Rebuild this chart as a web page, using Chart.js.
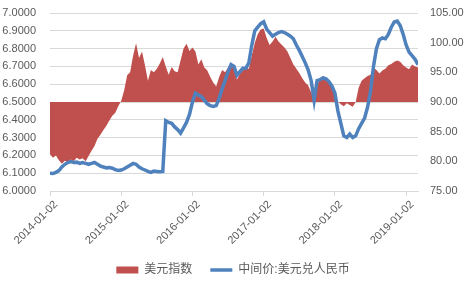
<!DOCTYPE html>
<html>
<head>
<meta charset="utf-8">
<script src="https://cdn.jsdelivr.net/npm/chart.js@4.4.1/dist/chart.umd.min.js"></script>
<style>
html,body{margin:0;padding:0;background:#fff;}
#wrap{width:475px;height:286px;}
</style>
</head>
<body>
<div id="wrap"><canvas id="c" width="475" height="286"></canvas></div>
<script>
// Semi-monthly samples, index 0 = 2014-01-02
const xTickIndex = [0, 24, 48, 72, 96, 120];
const xTickLabels = ['2014-01-02', '2015-01-02', '2016-01-02', '2017-01-02', '2018-01-02', '2019-01-02'];
const seriesNames = ['美元指数', '中间价:美元兑人民币'];

// 美元指数 (right axis)
const dollarIndex = [
  81.2, 80.6, 81.0, 80.2, 79.6, 80.1, 79.8, 80.3, 80.0, 80.6, 80.3, 80.5,
  80.0, 80.9, 81.8, 82.6, 83.8, 84.5, 85.3, 86.0, 86.9, 87.7, 88.2, 89.3,
  90.2, 92.0, 94.5, 95.0, 97.8, 99.9, 97.4, 98.5, 96.2, 93.6, 95.4, 95.0,
  95.6, 96.5, 97.6, 96.0, 94.6, 95.9, 95.2, 95.0, 97.0, 99.0, 99.8, 98.6,
  99.2, 98.5, 96.3, 97.2, 95.8, 95.3, 94.2, 93.3, 92.6, 94.2, 95.4, 95.0,
  95.8, 96.6, 95.6, 93.8, 94.8, 95.3, 95.8, 95.6, 97.8, 100.0, 101.4, 102.2,
  102.4, 100.8, 99.6, 100.2, 101.0, 100.2, 99.7, 99.2, 98.5, 97.4, 96.3, 95.6,
  94.9, 94.0, 93.3, 92.8, 91.6, 90.6, 92.8, 94.0, 94.4, 94.0, 93.2, 92.3,
  91.2, 90.1, 89.6, 89.3, 89.8, 89.5, 89.2, 90.0, 92.4, 93.6, 94.0, 94.4,
  94.6, 95.8, 95.4, 94.8, 95.3, 95.6, 96.2, 96.4, 96.8, 97.0, 96.8, 96.2,
  95.8, 95.5, 96.3, 96.0, 95.8
];

// 中间价:美元兑人民币 (left axis)
const usdCny = [
  6.100, 6.098, 6.105, 6.115, 6.135, 6.150, 6.160, 6.165, 6.160, 6.162, 6.155, 6.160,
  6.155, 6.150, 6.155, 6.160, 6.150, 6.140, 6.135, 6.130, 6.132, 6.128, 6.120, 6.115,
  6.118, 6.125, 6.135, 6.145, 6.155, 6.150, 6.135, 6.125, 6.118, 6.110, 6.105, 6.112,
  6.110, 6.108, 6.110, 6.395, 6.385, 6.380, 6.360, 6.345, 6.325, 6.355, 6.385, 6.430,
  6.500, 6.550, 6.540, 6.530, 6.510, 6.490, 6.480, 6.475, 6.480, 6.520, 6.575, 6.620,
  6.670, 6.710, 6.700, 6.650, 6.670, 6.690, 6.690, 6.720, 6.820, 6.900, 6.920, 6.940,
  6.950, 6.910, 6.890, 6.870, 6.880, 6.890, 6.895, 6.890, 6.880, 6.870, 6.855, 6.820,
  6.790, 6.755, 6.720, 6.680, 6.620, 6.510, 6.620, 6.625, 6.635, 6.630, 6.615, 6.590,
  6.550, 6.450, 6.380, 6.310, 6.300, 6.320, 6.300, 6.310, 6.350, 6.380, 6.410, 6.470,
  6.560, 6.700, 6.800, 6.850, 6.860, 6.855, 6.880, 6.920, 6.950, 6.955, 6.930, 6.880,
  6.820, 6.780, 6.760, 6.740, 6.710
];

const FONT = "'Liberation Sans', 'Noto Sans CJK SC', sans-serif";
const TXT = '#595959';
const GRID = '#d9d9d9';
const RED = '#C0504D';
const BLUE = '#4F81BD';

const toXY = arr => arr.map((v, i) => ({ x: i, y: v }));

new Chart(document.getElementById('c'), {
  type: 'line',
  data: {
    datasets: [
      {
        label: seriesNames[1],
        data: toXY(usdCny),
        yAxisID: 'y',
        borderColor: BLUE,
        backgroundColor: BLUE,
        borderWidth: 3.5,
        pointRadius: 0,
        fill: false,
        tension: 0
      },
      {
        label: seriesNames[0],
        data: toXY(dollarIndex),
        yAxisID: 'y1',
        borderColor: RED,
        backgroundColor: RED,
        borderWidth: 0,
        pointRadius: 0,
        fill: { value: 90 },
        tension: 0
      }
    ]
  },
  options: {
    responsive: false,
    animation: false,
    layout: { padding: { left: 2, right: 11, top: 13, bottom: 0 } },
    plugins: {
      tooltip: { enabled: false },
      legend: {
        position: 'bottom',
        labels: {
          usePointStyle: true,
          pointStyleWidth: 22,
          boxHeight: 7,
          padding: 18,
          color: TXT,
          font: { family: FONT, size: 12 },
          sort: (a, b) => b.datasetIndex - a.datasetIndex,
          generateLabels: chart => chart.data.datasets.map((ds, i) => ({
            text: ds.label,
            datasetIndex: i,
            fillStyle: ds.borderColor,
            strokeStyle: ds.borderColor,
            lineWidth: i === 0 ? 3.5 : 0,
            pointStyle: i === 0 ? 'line' : 'rect',
            fontColor: TXT,
            hidden: false
          }))
        }
      }
    },
    scales: {
      x: {
        type: 'linear',
        min: 0,
        max: dollarIndex.length - 1,
        afterBuildTicks: scale => { scale.ticks = xTickIndex.map(v => ({ value: v })); },
        afterFit: scale => { scale.paddingLeft = 0; scale.paddingRight = 0; scale.height = 55; },
        ticks: {
          autoSkip: false,
          minRotation: 45,
          maxRotation: 45,
          padding: 2,
          labelOffset: 6,
          color: TXT,
          font: { family: FONT, size: 11 },
          callback: v => { const k = xTickIndex.indexOf(v); return k >= 0 ? xTickLabels[k] : ''; }
        },
        grid: { drawOnChartArea: false, drawTicks: true, tickLength: 5, color: GRID },
        border: { display: true, color: GRID }
      },
      y: {
        position: 'left',
        min: 6.0,
        max: 7.0,
        afterFit: scale => { scale.width = 48; scale.paddingTop = 0; scale.paddingBottom = 0; },
        ticks: {
          stepSize: 0.1,
          autoSkip: false,
          padding: 14,
          color: TXT,
          font: { family: FONT, size: 11 },
          callback: v => Number(v).toFixed(4)
        },
        grid: { color: GRID, drawTicks: false },
        border: { display: false }
      },
      y1: {
        position: 'right',
        min: 75,
        max: 105,
        afterFit: scale => { scale.width = 46; scale.paddingTop = 0; scale.paddingBottom = 0; },
        ticks: {
          stepSize: 5,
          autoSkip: false,
          padding: 12,
          color: TXT,
          font: { family: FONT, size: 11 },
          callback: v => Number(v).toFixed(2)
        },
        grid: { drawOnChartArea: false, drawTicks: false },
        border: { display: false }
      }
    }
  }
});
</script>
</body>
</html>
